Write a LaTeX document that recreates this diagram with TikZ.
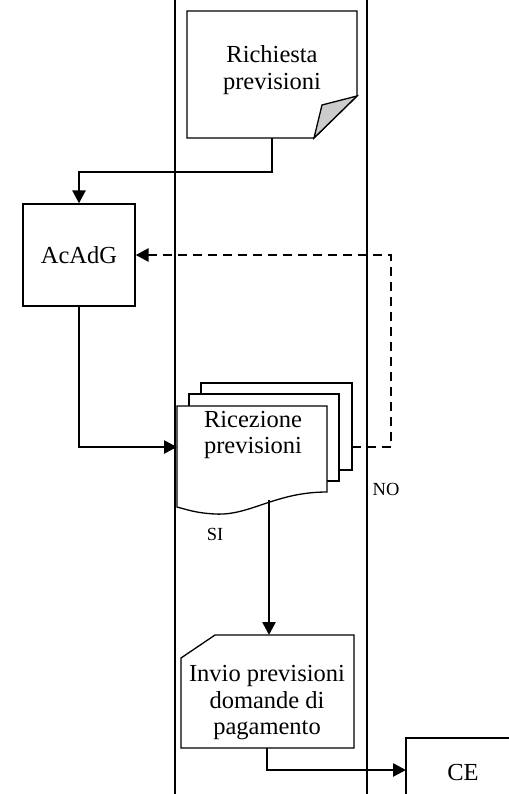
\documentclass[tikz,border=0pt]{standalone}
\usepackage{fontspec}
\setmainfont{Liberation Serif}
\usetikzlibrary{arrows.meta}
\begin{document}
\begin{tikzpicture}[x=1pt,y=-1pt,
  shapeline/.style={line width=1.3pt},
  lbl/.style={font=\fontsize{24.5}{26.5}\selectfont,align=center,inner sep=0pt},
  small/.style={font=\fontsize{18.5}{20}\selectfont,inner sep=0pt},
  flow/.style={line width=2.6pt,-{Triangle[length=13pt,width=13pt]}},
  lane/.style={line width=2.2pt}]
\useasboundingbox (0,0) rectangle (508,794);
% swimlanes
\draw[lane] (175,0) -- (175,794);
\draw[lane] (367,0) -- (367,794);
% Richiesta previsioni (document with folded corner)
\node[inner sep=0pt,minimum width=170pt,minimum height=127pt] (req) at (272,74.5) {};
\draw[shapeline,fill=white] (187,11) -- (357,11) -- (357,96) -- (314,138) -- (187,138) -- cycle;
\draw[shapeline,fill=gray!40] (357,96) -- (322,105) -- (314,138) -- cycle;
\node[lbl] (reqtext) at (272,70) {Richiesta\\previsioni};
% AcAdG
\node[draw,shapeline,inner sep=0pt,minimum width=112pt,minimum height=102pt,lbl] (acadg) at (79,255) {AcAdG};
% Ricezione previsioni (multi-document)
\draw[shapeline,fill=white] (201,383) rectangle (352,470);
\draw[shapeline,fill=white] (189,394) rectangle (339,481);
\draw[shapeline,fill=white] (177,406) -- (327,406) -- (327,492)
  .. controls (275,492) and (250,516) .. (215,514)
  .. controls (195,513) and (185,509) .. (177,507) -- cycle;
\node[lbl] (rec) at (253,435) {Ricezione\\previsioni};
\coordinate (recin) at (177,447);
\coordinate (recout) at (352,447);
\coordinate (recbot) at (269,500);
\coordinate (nocorner) at (391,447);
% Invio previsioni (card)
\draw[shapeline,fill=white] (181,658) -- (215,635) -- (354,635) -- (354,748) -- (181,748) -- cycle;
\node[lbl] (invio) at (267,703) {Invio previsioni\\domande di\\pagamento};
\coordinate (inviotop) at (269,635);
\coordinate (inviobot) at (267,748);
% CE
\draw[shapeline] (406,800) -- (406,738) -- (520,738);
\node[lbl] (ce) at (463,772) {CE};
\coordinate (cein) at (406,770);
% labels
\node[small] (si) at (215,534) {SI};
\node[small] (no) at (386,489) {NO};
% connectors
\draw[flow] (req.south) -- ++(0,34) -| (acadg.north);
\draw[flow] (acadg.south) |- (recin);
\draw[flow,dash pattern=on 9pt off 6pt] (recout) -- (nocorner) |- (acadg.east);
\draw[flow] (recbot) -- (inviotop);
\draw[flow] (inviobot) |- (cein);
\end{tikzpicture}
\end{document}
